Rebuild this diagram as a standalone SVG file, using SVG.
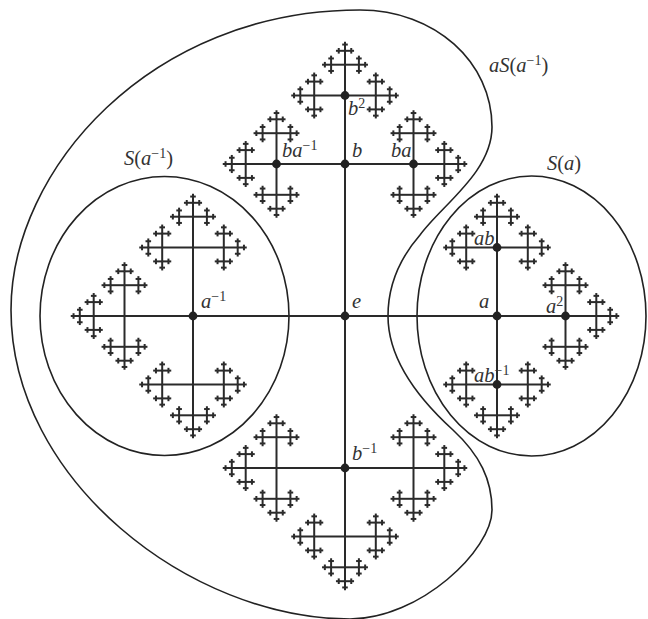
<svg xmlns="http://www.w3.org/2000/svg" xmlns:xlink="http://www.w3.org/1999/xlink" width="648" height="619" viewBox="0 0 648 619">
<style>
.region{fill:none;stroke:#222;stroke-width:1.6}
.dot{fill:#222}
.lbl{font-family:"Liberation Serif","DejaVu Serif",serif;font-size:20.5px;fill:#333}
.i{font-style:italic}
.sup{font-size:14px;font-style:normal}
</style>
<defs>
<g id="t5"><path d="M0 0H2.8"/></g>
<g id="t4"><path d="M0 0H6.25"/><use href="#t5" transform="translate(6.25 0)"/><use href="#t5" transform="translate(6.25 0) rotate(90)"/><use href="#t5" transform="translate(6.25 0) rotate(-90)"/></g>
<g id="t3"><path d="M0 0H13.9"/><use href="#t4" transform="translate(13.9 0)"/><use href="#t4" transform="translate(13.9 0) rotate(90)"/><use href="#t4" transform="translate(13.9 0) rotate(-90)"/></g>
<g id="t2"><path d="M0 0H30.8"/><use href="#t3" transform="translate(30.8 0)"/><use href="#t3" transform="translate(30.8 0) rotate(90)"/><use href="#t3" transform="translate(30.8 0) rotate(-90)"/></g>
<g id="t1"><path d="M0 0H68.5"/><use href="#t2" transform="translate(68.5 0)"/><use href="#t2" transform="translate(68.5 0) rotate(90)"/><use href="#t2" transform="translate(68.5 0) rotate(-90)"/></g>
<g id="t0"><path d="M0 0H152"/><use href="#t1" transform="translate(152 0)"/><use href="#t1" transform="translate(152 0) rotate(90)"/><use href="#t1" transform="translate(152 0) rotate(-90)"/></g>
</defs>
<rect width="648" height="619" fill="#fff"/>
<g id="regions">
<ellipse id="S-ainv" class="region" cx="164.5" cy="316" rx="124.5" ry="139.5"/>
<ellipse id="S-a" class="region" cx="531.5" cy="316" rx="114.5" ry="140"/>
<path id="aS-ainv" class="region" d="M360,10 C435,10 492,62 492,127 C492,172 442,205 420,235 C400,258 388,285 388,316 C388,360 420,400 453,430 C480,455 492,480 492,510 C492,550 420,619 350,619 C190,619 11,480 11,310 C11,170 150,10 360,10 Z"/>
<text class="lbl" x="124" y="165"><tspan class="i">S</tspan>(<tspan class="i">a</tspan><tspan class="sup" dy="-7">−1</tspan><tspan dy="7">)</tspan></text>
<text class="lbl" x="489" y="72"><tspan class="i">aS</tspan>(<tspan class="i">a</tspan><tspan class="sup" dy="-7">−1</tspan><tspan dy="7">)</tspan></text>
<text class="lbl" x="547" y="170"><tspan class="i">S</tspan>(<tspan class="i">a</tspan>)</text>
</g>
<g id="connectors" fill="none" stroke="#2a2a2a" stroke-width="2" stroke-linecap="butt">
<use href="#t0" transform="translate(345 316)"/>
<use href="#t0" transform="translate(345 316) rotate(90)"/>
<use href="#t0" transform="translate(345 316) rotate(180)"/>
<use href="#t0" transform="translate(345 316) rotate(-90)"/>
</g>
<g id="node-e"><circle class="dot" cx="345" cy="316" r="4.4"/><text class="lbl i" x="352" y="308">e</text></g>
<g id="node-a"><circle class="dot" cx="497" cy="316" r="4.4"/><text class="lbl i" x="479" y="308">a</text></g>
<g id="node-ainv"><circle class="dot" cx="193" cy="316" r="4.4"/><text class="lbl" x="201" y="308"><tspan class="i">a</tspan><tspan class="sup" dy="-7">−1</tspan></text></g>
<g id="node-b"><circle class="dot" cx="345" cy="164" r="4.4"/><text class="lbl i" x="352" y="157">b</text></g>
<g id="node-binv"><circle class="dot" cx="345" cy="468" r="4.4"/><text class="lbl" x="352" y="460"><tspan class="i">b</tspan><tspan class="sup" dy="-7">−1</tspan></text></g>
<g id="node-b2"><circle class="dot" cx="345" cy="95.5" r="4.4"/><text class="lbl" x="348" y="115"><tspan class="i">b</tspan><tspan class="sup" dy="-7">2</tspan></text></g>
<g id="node-ba"><circle class="dot" cx="413.5" cy="164" r="4.4"/><text class="lbl i" x="391" y="157">ba</text></g>
<g id="node-bainv"><circle class="dot" cx="276.5" cy="164" r="4.4"/><text class="lbl" x="282" y="157"><tspan class="i">ba</tspan><tspan class="sup" dy="-7">−1</tspan></text></g>
<g id="node-ab"><circle class="dot" cx="497" cy="247.5" r="4.4"/><text class="lbl i" x="474" y="245">ab</text></g>
<g id="node-a2"><circle class="dot" cx="565.5" cy="316" r="4.4"/><text class="lbl" x="546" y="313"><tspan class="i">a</tspan><tspan class="sup" dy="-7">2</tspan></text></g>
<g id="node-abinv"><circle class="dot" cx="497" cy="384.5" r="4.4"/><text class="lbl" x="474" y="382"><tspan class="i">ab</tspan><tspan class="sup" dy="-7">−1</tspan></text></g>
</svg>
